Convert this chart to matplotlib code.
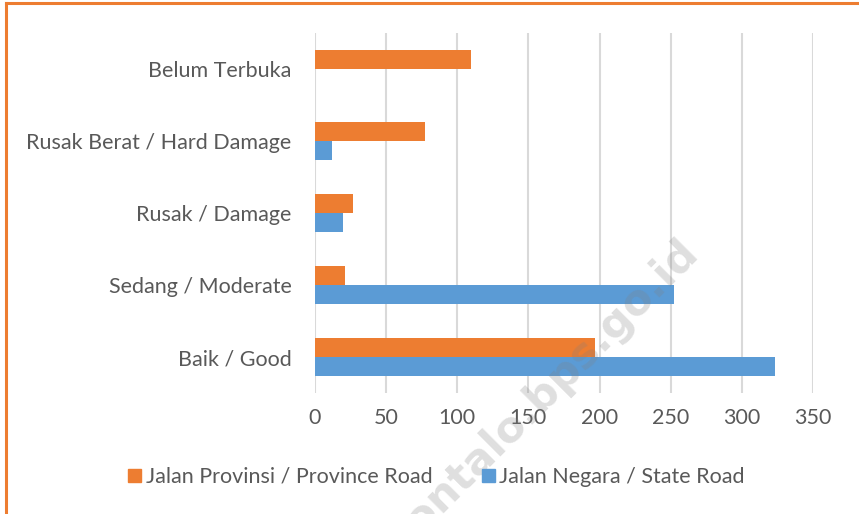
import numpy as np
import matplotlib.pyplot as plt
from matplotlib.patches import Patch
from matplotlib.lines import Line2D

categories = ["Baik / Good", "Sedang / Moderate", "Rusak / Damage",
              "Rusak Berat / Hard Damage", "Belum Terbuka"]
province_road = [197, 21, 27, 77, 110]
state_road = [323, 252, 20, 12, 0]
x_ticks = [0, 50, 100, 150, 200, 250, 300, 350]

ORANGE = "#ED7D31"
BLUE = "#5B9BD5"
TEXT = "#595959"

plt.rcParams["font.family"] = ["Lato", "DejaVu Sans"]

fig = plt.figure(figsize=(8.59, 5.14), dpi=100)
ax = fig.add_axes([0.3667, 0.2354, 0.5797, 0.7004])

y = np.arange(len(categories))
h = 0.26
ax.barh(y + h / 2, province_road, height=h, color=ORANGE, zorder=3)
ax.barh(y - h / 2, state_road, height=h, color=BLUE, zorder=3)

ax.set_xlim(0, 350)
ax.set_ylim(-0.5, len(categories) - 0.5)
ax.set_xticks(x_ticks)
ax.set_yticks(y)
ax.set_yticklabels(categories)
ax.tick_params(axis="both", length=0, colors=TEXT, labelsize=15.5)
ax.tick_params(axis="x", pad=11)
ax.tick_params(axis="y", pad=17)
ax.grid(axis="x", color="#D9D9D9", linewidth=1.5, zorder=0)
for s in ax.spines.values():
    s.set_visible(False)

handles = [Patch(color=ORANGE, label="Jalan Provinsi / Province Road"),
           Patch(color=BLUE, label="Jalan Negara / State Road")]
fig.legend(handles=handles, loc="center", bbox_to_anchor=(0.508, 0.072), ncol=2,
           frameon=False, fontsize=15.5, labelcolor=TEXT, handlelength=0.6,
           handleheight=0.6, handletextpad=0.2, columnspacing=2.3)

# watermark
fig.text(0.805, 0.52, "gorontalo.bps.go.id", rotation=45, ha="right", va="center",
         fontsize=31, fontweight="bold", color="#808080", alpha=0.25,
         family=["DejaVu Sans"], rotation_mode="anchor")

# orange border (left and top)
fig.add_artist(Line2D([0.0068, 0.0068], [0, 0.9935], color=ORANGE, lw=2.2))
fig.add_artist(Line2D([0.0068, 1.0], [0.9935, 0.9935], color=ORANGE, lw=2.2))

fig.savefig("out.png", dpi=100)
